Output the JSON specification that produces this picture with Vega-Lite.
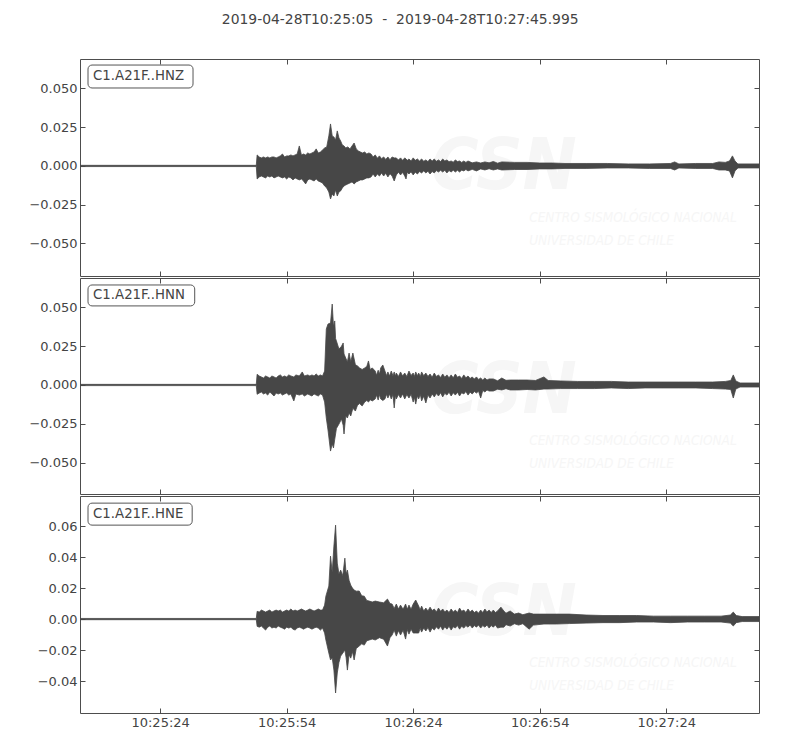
{
  "$schema": "https://vega.github.io/schema/vega-lite/v6.json",
  "background": "white",
  "padding": {"left": 28, "top": 13, "right": 20, "bottom": 5},
  "title": {
    "text": "2019-04-28T10:25:05 \u00a0-\u00a0 2019-04-28T10:27:45.995",
    "font": "DejaVu Sans",
    "fontSize": 13.9,
    "fontWeight": "normal",
    "color": "#444444",
    "anchor": "middle",
    "offset": 31,
    "dx": 6
  },
  "datasets": {
    "hnz": [
      {"t": 0, "lo": -0.0004, "hi": 0.0004},
      {"t": 41.8, "lo": -0.0004, "hi": 0.0004},
      {"t": 42.0, "lo": -0.0084, "hi": 0.0071},
      {"t": 42.5, "lo": -0.0071, "hi": 0.0058},
      {"t": 43.0, "lo": -0.0065, "hi": 0.0052},
      {"t": 43.5, "lo": -0.0071, "hi": 0.0058},
      {"t": 44.0, "lo": -0.0077, "hi": 0.0052},
      {"t": 44.5, "lo": -0.0065, "hi": 0.0058},
      {"t": 45.0, "lo": -0.0071, "hi": 0.0052},
      {"t": 45.5, "lo": -0.0065, "hi": 0.0058},
      {"t": 46.0, "lo": -0.0077, "hi": 0.0058},
      {"t": 46.5, "lo": -0.0071, "hi": 0.0052},
      {"t": 47.0, "lo": -0.0065, "hi": 0.0058},
      {"t": 47.5, "lo": -0.0071, "hi": 0.0065},
      {"t": 48.0, "lo": -0.0077, "hi": 0.0077},
      {"t": 48.5, "lo": -0.0071, "hi": 0.0058},
      {"t": 49.0, "lo": -0.0084, "hi": 0.0065},
      {"t": 49.5, "lo": -0.0071, "hi": 0.0065},
      {"t": 50.0, "lo": -0.0077, "hi": 0.0071},
      {"t": 50.5, "lo": -0.0090, "hi": 0.0065},
      {"t": 51.0, "lo": -0.0077, "hi": 0.0071},
      {"t": 51.5, "lo": -0.0084, "hi": 0.0077},
      {"t": 52.0, "lo": -0.0090, "hi": 0.0129},
      {"t": 52.5, "lo": -0.0084, "hi": 0.0071},
      {"t": 53.0, "lo": -0.0097, "hi": 0.0077},
      {"t": 53.5, "lo": -0.0116, "hi": 0.0071},
      {"t": 54.0, "lo": -0.0090, "hi": 0.0084},
      {"t": 54.5, "lo": -0.0084, "hi": 0.0077},
      {"t": 55.0, "lo": -0.0090, "hi": 0.0084},
      {"t": 55.5, "lo": -0.0097, "hi": 0.0090},
      {"t": 56.0, "lo": -0.0084, "hi": 0.0110},
      {"t": 56.5, "lo": -0.0097, "hi": 0.0084},
      {"t": 57.0, "lo": -0.0103, "hi": 0.0090},
      {"t": 57.5, "lo": -0.0110, "hi": 0.0103},
      {"t": 58.0, "lo": -0.0129, "hi": 0.0116},
      {"t": 58.5, "lo": -0.0142, "hi": 0.0123},
      {"t": 59.0, "lo": -0.0168, "hi": 0.0194},
      {"t": 59.4, "lo": -0.0213, "hi": 0.0271},
      {"t": 59.8, "lo": -0.0181, "hi": 0.0194},
      {"t": 60.2, "lo": -0.0194, "hi": 0.0187},
      {"t": 60.6, "lo": -0.0155, "hi": 0.0168},
      {"t": 61.0, "lo": -0.0194, "hi": 0.0226},
      {"t": 61.4, "lo": -0.0168, "hi": 0.0181},
      {"t": 61.8, "lo": -0.0161, "hi": 0.0161},
      {"t": 62.2, "lo": -0.0142, "hi": 0.0135},
      {"t": 62.6, "lo": -0.0129, "hi": 0.0129},
      {"t": 63.0, "lo": -0.0123, "hi": 0.0116},
      {"t": 63.5, "lo": -0.0116, "hi": 0.0123},
      {"t": 64.0, "lo": -0.0110, "hi": 0.0110},
      {"t": 64.5, "lo": -0.0103, "hi": 0.0129},
      {"t": 65.0, "lo": -0.0116, "hi": 0.0148},
      {"t": 65.5, "lo": -0.0103, "hi": 0.0110},
      {"t": 66.0, "lo": -0.0097, "hi": 0.0097},
      {"t": 66.5, "lo": -0.0090, "hi": 0.0090},
      {"t": 67.0, "lo": -0.0090, "hi": 0.0084},
      {"t": 67.5, "lo": -0.0084, "hi": 0.0090},
      {"t": 68.0, "lo": -0.0077, "hi": 0.0077},
      {"t": 68.5, "lo": -0.0077, "hi": 0.0084},
      {"t": 69.0, "lo": -0.0071, "hi": 0.0077},
      {"t": 69.5, "lo": -0.0052, "hi": 0.0058},
      {"t": 70.0, "lo": -0.0071, "hi": 0.0071},
      {"t": 70.5, "lo": -0.0052, "hi": 0.0050},
      {"t": 71.0, "lo": -0.0065, "hi": 0.0065},
      {"t": 71.5, "lo": -0.0045, "hi": 0.0047},
      {"t": 72.0, "lo": -0.0065, "hi": 0.0058},
      {"t": 72.5, "lo": -0.0047, "hi": 0.0042},
      {"t": 73.0, "lo": -0.0071, "hi": 0.0058},
      {"t": 73.5, "lo": -0.0050, "hi": 0.0040},
      {"t": 74.0, "lo": -0.0065, "hi": 0.0058},
      {"t": 74.5, "lo": -0.0097, "hi": 0.0052},
      {"t": 75.0, "lo": -0.0058, "hi": 0.0052},
      {"t": 75.5, "lo": -0.0040, "hi": 0.0038},
      {"t": 76.0, "lo": -0.0058, "hi": 0.0052},
      {"t": 76.5, "lo": -0.0042, "hi": 0.0036},
      {"t": 77.0, "lo": -0.0065, "hi": 0.0052},
      {"t": 77.3, "lo": -0.0084, "hi": 0.0045},
      {"t": 77.6, "lo": -0.0040, "hi": 0.0036},
      {"t": 78.0, "lo": -0.0052, "hi": 0.0045},
      {"t": 78.5, "lo": -0.0038, "hi": 0.0032},
      {"t": 79.0, "lo": -0.0058, "hi": 0.0052},
      {"t": 79.5, "lo": -0.0040, "hi": 0.0036},
      {"t": 80.0, "lo": -0.0052, "hi": 0.0045},
      {"t": 80.5, "lo": -0.0036, "hi": 0.0032},
      {"t": 81.0, "lo": -0.0045, "hi": 0.0045},
      {"t": 81.5, "lo": -0.0032, "hi": 0.0030},
      {"t": 82.0, "lo": -0.0045, "hi": 0.0039},
      {"t": 82.5, "lo": -0.0034, "hi": 0.0028},
      {"t": 83.0, "lo": -0.0052, "hi": 0.0045},
      {"t": 83.5, "lo": -0.0036, "hi": 0.0032},
      {"t": 84.0, "lo": -0.0045, "hi": 0.0045},
      {"t": 84.5, "lo": -0.0030, "hi": 0.0030},
      {"t": 85.0, "lo": -0.0039, "hi": 0.0039},
      {"t": 85.5, "lo": -0.0028, "hi": 0.0028},
      {"t": 86.0, "lo": -0.0039, "hi": 0.0045},
      {"t": 86.5, "lo": -0.0028, "hi": 0.0032},
      {"t": 87.0, "lo": -0.0045, "hi": 0.0039},
      {"t": 87.5, "lo": -0.0030, "hi": 0.0027},
      {"t": 88.0, "lo": -0.0039, "hi": 0.0032},
      {"t": 88.5, "lo": -0.0027, "hi": 0.0024},
      {"t": 89.0, "lo": -0.0039, "hi": 0.0039},
      {"t": 89.5, "lo": -0.0028, "hi": 0.0028},
      {"t": 90.0, "lo": -0.0039, "hi": 0.0032},
      {"t": 90.5, "lo": -0.0027, "hi": 0.0023},
      {"t": 91.0, "lo": -0.0032, "hi": 0.0032},
      {"t": 91.5, "lo": -0.0023, "hi": 0.0023},
      {"t": 92.0, "lo": -0.0032, "hi": 0.0032},
      {"t": 93.0, "lo": -0.0022, "hi": 0.0020},
      {"t": 94.0, "lo": -0.0032, "hi": 0.0026},
      {"t": 95.0, "lo": -0.0019, "hi": 0.0019},
      {"t": 96.0, "lo": -0.0026, "hi": 0.0026},
      {"t": 97.0, "lo": -0.0018, "hi": 0.0020},
      {"t": 98.0, "lo": -0.0026, "hi": 0.0029},
      {"t": 99.0, "lo": -0.0019, "hi": 0.0018},
      {"t": 100.0, "lo": -0.0026, "hi": 0.0026},
      {"t": 103.0, "lo": -0.0023, "hi": 0.0023},
      {"t": 106.0, "lo": -0.0023, "hi": 0.0023},
      {"t": 109.0, "lo": -0.0019, "hi": 0.0019},
      {"t": 112.0, "lo": -0.0019, "hi": 0.0019},
      {"t": 115.0, "lo": -0.0016, "hi": 0.0016},
      {"t": 120.0, "lo": -0.0016, "hi": 0.0016},
      {"t": 125.0, "lo": -0.0013, "hi": 0.0016},
      {"t": 130.0, "lo": -0.0013, "hi": 0.0013},
      {"t": 135.0, "lo": -0.0016, "hi": 0.0013},
      {"t": 140.0, "lo": -0.0016, "hi": 0.0016},
      {"t": 141.0, "lo": -0.0026, "hi": 0.0026},
      {"t": 142.0, "lo": -0.0013, "hi": 0.0013},
      {"t": 146.0, "lo": -0.0016, "hi": 0.0016},
      {"t": 150.0, "lo": -0.0016, "hi": 0.0016},
      {"t": 151.5, "lo": -0.0026, "hi": 0.0026},
      {"t": 153.0, "lo": -0.0026, "hi": 0.0023},
      {"t": 154.0, "lo": -0.0032, "hi": 0.0032},
      {"t": 154.7, "lo": -0.0077, "hi": 0.0065},
      {"t": 155.3, "lo": -0.0032, "hi": 0.0032},
      {"t": 156.0, "lo": -0.0013, "hi": 0.0013},
      {"t": 161.0, "lo": -0.0013, "hi": 0.0013}
    ],
    "hnn": [
      {"t": 0, "lo": -0.0004, "hi": 0.0004},
      {"t": 41.8, "lo": -0.0004, "hi": 0.0004},
      {"t": 42.0, "lo": -0.0060, "hi": 0.0069},
      {"t": 42.5, "lo": -0.0052, "hi": 0.0058},
      {"t": 43.0, "lo": -0.0045, "hi": 0.0052},
      {"t": 43.5, "lo": -0.0058, "hi": 0.0045},
      {"t": 44.0, "lo": -0.0052, "hi": 0.0058},
      {"t": 44.5, "lo": -0.0065, "hi": 0.0052},
      {"t": 45.0, "lo": -0.0045, "hi": 0.0045},
      {"t": 45.5, "lo": -0.0058, "hi": 0.0058},
      {"t": 46.0, "lo": -0.0071, "hi": 0.0052},
      {"t": 46.5, "lo": -0.0052, "hi": 0.0045},
      {"t": 47.0, "lo": -0.0058, "hi": 0.0058},
      {"t": 47.5, "lo": -0.0052, "hi": 0.0065},
      {"t": 48.0, "lo": -0.0065, "hi": 0.0052},
      {"t": 48.5, "lo": -0.0058, "hi": 0.0058},
      {"t": 49.0, "lo": -0.0052, "hi": 0.0052},
      {"t": 49.5, "lo": -0.0065, "hi": 0.0065},
      {"t": 50.0, "lo": -0.0058, "hi": 0.0058},
      {"t": 50.7, "lo": -0.0103, "hi": 0.0052},
      {"t": 51.2, "lo": -0.0058, "hi": 0.0065},
      {"t": 52.0, "lo": -0.0065, "hi": 0.0058},
      {"t": 52.7, "lo": -0.0058, "hi": 0.0084},
      {"t": 53.2, "lo": -0.0071, "hi": 0.0058},
      {"t": 54.0, "lo": -0.0058, "hi": 0.0065},
      {"t": 54.5, "lo": -0.0065, "hi": 0.0058},
      {"t": 55.0, "lo": -0.0071, "hi": 0.0065},
      {"t": 55.5, "lo": -0.0058, "hi": 0.0058},
      {"t": 56.0, "lo": -0.0065, "hi": 0.0071},
      {"t": 56.5, "lo": -0.0071, "hi": 0.0058},
      {"t": 57.0, "lo": -0.0058, "hi": 0.0065},
      {"t": 57.5, "lo": -0.0065, "hi": 0.0058},
      {"t": 58.0, "lo": -0.0110, "hi": 0.0090},
      {"t": 58.4, "lo": -0.0213, "hi": 0.0361},
      {"t": 58.8, "lo": -0.0290, "hi": 0.0393},
      {"t": 59.4, "lo": -0.0426, "hi": 0.0400},
      {"t": 59.8, "lo": -0.0380, "hi": 0.0522},
      {"t": 60.1, "lo": -0.0406, "hi": 0.0380},
      {"t": 60.4, "lo": -0.0350, "hi": 0.0413},
      {"t": 60.6, "lo": -0.0316, "hi": 0.0300},
      {"t": 60.8, "lo": -0.0280, "hi": 0.0284},
      {"t": 61.4, "lo": -0.0252, "hi": 0.0232},
      {"t": 62.0, "lo": -0.0220, "hi": 0.0250},
      {"t": 62.4, "lo": -0.0260, "hi": 0.0271},
      {"t": 62.6, "lo": -0.0316, "hi": 0.0200},
      {"t": 63.0, "lo": -0.0200, "hi": 0.0174},
      {"t": 63.4, "lo": -0.0213, "hi": 0.0150},
      {"t": 63.8, "lo": -0.0180, "hi": 0.0206},
      {"t": 64.2, "lo": -0.0200, "hi": 0.0150},
      {"t": 64.7, "lo": -0.0150, "hi": 0.0206},
      {"t": 65.3, "lo": -0.0168, "hi": 0.0130},
      {"t": 65.8, "lo": -0.0130, "hi": 0.0123},
      {"t": 66.3, "lo": -0.0120, "hi": 0.0110},
      {"t": 66.9, "lo": -0.0135, "hi": 0.0100},
      {"t": 67.5, "lo": -0.0110, "hi": 0.0110},
      {"t": 68.0, "lo": -0.0100, "hi": 0.0120},
      {"t": 68.4, "lo": -0.0110, "hi": 0.0155},
      {"t": 68.8, "lo": -0.0095, "hi": 0.0100},
      {"t": 69.3, "lo": -0.0103, "hi": 0.0110},
      {"t": 70.0, "lo": -0.0090, "hi": 0.0090},
      {"t": 70.3, "lo": -0.0065, "hi": 0.0063},
      {"t": 70.7, "lo": -0.0097, "hi": 0.0095},
      {"t": 71.0, "lo": -0.0062, "hi": 0.0070},
      {"t": 71.3, "lo": -0.0090, "hi": 0.0110},
      {"t": 71.8, "lo": -0.0100, "hi": 0.0129},
      {"t": 72.3, "lo": -0.0090, "hi": 0.0090},
      {"t": 72.7, "lo": -0.0060, "hi": 0.0060},
      {"t": 73.0, "lo": -0.0084, "hi": 0.0084},
      {"t": 73.4, "lo": -0.0058, "hi": 0.0058},
      {"t": 73.8, "lo": -0.0090, "hi": 0.0090},
      {"t": 74.2, "lo": -0.0062, "hi": 0.0060},
      {"t": 74.5, "lo": -0.0148, "hi": 0.0084},
      {"t": 74.8, "lo": -0.0065, "hi": 0.0058},
      {"t": 75.0, "lo": -0.0090, "hi": 0.0077},
      {"t": 75.5, "lo": -0.0062, "hi": 0.0055},
      {"t": 76.0, "lo": -0.0084, "hi": 0.0084},
      {"t": 76.5, "lo": -0.0058, "hi": 0.0058},
      {"t": 77.0, "lo": -0.0090, "hi": 0.0077},
      {"t": 77.5, "lo": -0.0062, "hi": 0.0055},
      {"t": 78.0, "lo": -0.0084, "hi": 0.0090},
      {"t": 78.5, "lo": -0.0060, "hi": 0.0062},
      {"t": 79.0, "lo": -0.0110, "hi": 0.0077},
      {"t": 79.3, "lo": -0.0080, "hi": 0.0055},
      {"t": 79.6, "lo": -0.0123, "hi": 0.0084},
      {"t": 80.0, "lo": -0.0070, "hi": 0.0060},
      {"t": 80.3, "lo": -0.0090, "hi": 0.0077},
      {"t": 80.7, "lo": -0.0062, "hi": 0.0055},
      {"t": 81.0, "lo": -0.0103, "hi": 0.0084},
      {"t": 81.5, "lo": -0.0072, "hi": 0.0060},
      {"t": 82.0, "lo": -0.0116, "hi": 0.0077},
      {"t": 82.5, "lo": -0.0065, "hi": 0.0055},
      {"t": 83.0, "lo": -0.0084, "hi": 0.0071},
      {"t": 83.5, "lo": -0.0058, "hi": 0.0050},
      {"t": 84.0, "lo": -0.0077, "hi": 0.0077},
      {"t": 84.5, "lo": -0.0055, "hi": 0.0055},
      {"t": 85.0, "lo": -0.0071, "hi": 0.0065},
      {"t": 85.5, "lo": -0.0050, "hi": 0.0048},
      {"t": 86.0, "lo": -0.0077, "hi": 0.0071},
      {"t": 86.5, "lo": -0.0054, "hi": 0.0050},
      {"t": 87.0, "lo": -0.0065, "hi": 0.0065},
      {"t": 87.5, "lo": -0.0046, "hi": 0.0046},
      {"t": 88.0, "lo": -0.0071, "hi": 0.0065},
      {"t": 88.5, "lo": -0.0050, "hi": 0.0046},
      {"t": 89.0, "lo": -0.0065, "hi": 0.0071},
      {"t": 89.5, "lo": -0.0046, "hi": 0.0050},
      {"t": 90.0, "lo": -0.0071, "hi": 0.0058},
      {"t": 90.5, "lo": -0.0050, "hi": 0.0042},
      {"t": 91.0, "lo": -0.0058, "hi": 0.0065},
      {"t": 91.5, "lo": -0.0042, "hi": 0.0046},
      {"t": 92.0, "lo": -0.0065, "hi": 0.0058},
      {"t": 92.5, "lo": -0.0046, "hi": 0.0042},
      {"t": 93.0, "lo": -0.0058, "hi": 0.0052},
      {"t": 93.5, "lo": -0.0042, "hi": 0.0038},
      {"t": 94.0, "lo": -0.0052, "hi": 0.0052},
      {"t": 94.5, "lo": -0.0040, "hi": 0.0036},
      {"t": 95.0, "lo": -0.0084, "hi": 0.0045},
      {"t": 95.5, "lo": -0.0035, "hi": 0.0032},
      {"t": 96.0, "lo": -0.0045, "hi": 0.0045},
      {"t": 96.5, "lo": -0.0032, "hi": 0.0032},
      {"t": 97.0, "lo": -0.0039, "hi": 0.0039},
      {"t": 98.0, "lo": -0.0039, "hi": 0.0039},
      {"t": 99.0, "lo": -0.0027, "hi": 0.0027},
      {"t": 100.0, "lo": -0.0032, "hi": 0.0045},
      {"t": 101.0, "lo": -0.0024, "hi": 0.0030},
      {"t": 102.0, "lo": -0.0032, "hi": 0.0032},
      {"t": 104.0, "lo": -0.0032, "hi": 0.0032},
      {"t": 106.0, "lo": -0.0029, "hi": 0.0032},
      {"t": 108.0, "lo": -0.0032, "hi": 0.0029},
      {"t": 110.0, "lo": -0.0026, "hi": 0.0052},
      {"t": 111.0, "lo": -0.0026, "hi": 0.0029},
      {"t": 114.0, "lo": -0.0023, "hi": 0.0026},
      {"t": 118.0, "lo": -0.0023, "hi": 0.0023},
      {"t": 122.0, "lo": -0.0023, "hi": 0.0023},
      {"t": 126.0, "lo": -0.0019, "hi": 0.0023},
      {"t": 130.0, "lo": -0.0023, "hi": 0.0019},
      {"t": 134.0, "lo": -0.0019, "hi": 0.0019},
      {"t": 138.0, "lo": -0.0019, "hi": 0.0019},
      {"t": 142.0, "lo": -0.0019, "hi": 0.0019},
      {"t": 146.0, "lo": -0.0019, "hi": 0.0019},
      {"t": 150.0, "lo": -0.0023, "hi": 0.0019},
      {"t": 153.0, "lo": -0.0026, "hi": 0.0023},
      {"t": 154.3, "lo": -0.0029, "hi": 0.0029},
      {"t": 154.9, "lo": -0.0084, "hi": 0.0065},
      {"t": 155.5, "lo": -0.0026, "hi": 0.0026},
      {"t": 156.5, "lo": -0.0013, "hi": 0.0013},
      {"t": 161.0, "lo": -0.0013, "hi": 0.0013}
    ],
    "hne": [
      {"t": 0, "lo": -0.0004, "hi": 0.0004},
      {"t": 41.8, "lo": -0.0004, "hi": 0.0004},
      {"t": 42.0, "lo": -0.0047, "hi": 0.0050},
      {"t": 42.5, "lo": -0.0052, "hi": 0.0045},
      {"t": 43.0, "lo": -0.0045, "hi": 0.0058},
      {"t": 43.5, "lo": -0.0058, "hi": 0.0052},
      {"t": 44.0, "lo": -0.0071, "hi": 0.0045},
      {"t": 44.5, "lo": -0.0052, "hi": 0.0052},
      {"t": 45.0, "lo": -0.0045, "hi": 0.0058},
      {"t": 45.5, "lo": -0.0058, "hi": 0.0045},
      {"t": 46.0, "lo": -0.0052, "hi": 0.0052},
      {"t": 46.5, "lo": -0.0058, "hi": 0.0058},
      {"t": 47.0, "lo": -0.0045, "hi": 0.0052},
      {"t": 47.5, "lo": -0.0052, "hi": 0.0058},
      {"t": 48.0, "lo": -0.0058, "hi": 0.0045},
      {"t": 48.5, "lo": -0.0065, "hi": 0.0052},
      {"t": 49.0, "lo": -0.0052, "hi": 0.0058},
      {"t": 49.5, "lo": -0.0058, "hi": 0.0052},
      {"t": 50.0, "lo": -0.0052, "hi": 0.0065},
      {"t": 50.5, "lo": -0.0065, "hi": 0.0052},
      {"t": 51.0, "lo": -0.0071, "hi": 0.0058},
      {"t": 51.5, "lo": -0.0058, "hi": 0.0052},
      {"t": 52.0, "lo": -0.0052, "hi": 0.0058},
      {"t": 52.5, "lo": -0.0058, "hi": 0.0065},
      {"t": 53.0, "lo": -0.0065, "hi": 0.0058},
      {"t": 53.5, "lo": -0.0058, "hi": 0.0052},
      {"t": 54.0, "lo": -0.0052, "hi": 0.0058},
      {"t": 54.5, "lo": -0.0058, "hi": 0.0065},
      {"t": 55.0, "lo": -0.0065, "hi": 0.0058},
      {"t": 55.5, "lo": -0.0058, "hi": 0.0052},
      {"t": 56.0, "lo": -0.0052, "hi": 0.0058},
      {"t": 56.5, "lo": -0.0058, "hi": 0.0065},
      {"t": 57.0, "lo": -0.0071, "hi": 0.0058},
      {"t": 57.5, "lo": -0.0058, "hi": 0.0058},
      {"t": 58.0, "lo": -0.0090, "hi": 0.0090},
      {"t": 58.3, "lo": -0.0135, "hi": 0.0148},
      {"t": 59.0, "lo": -0.0219, "hi": 0.0213},
      {"t": 59.4, "lo": -0.0264, "hi": 0.0406},
      {"t": 59.8, "lo": -0.0250, "hi": 0.0300},
      {"t": 60.2, "lo": -0.0329, "hi": 0.0471},
      {"t": 60.6, "lo": -0.0477, "hi": 0.0606},
      {"t": 61.0, "lo": -0.0348, "hi": 0.0361},
      {"t": 61.4, "lo": -0.0280, "hi": 0.0290},
      {"t": 61.8, "lo": -0.0239, "hi": 0.0316},
      {"t": 62.3, "lo": -0.0220, "hi": 0.0280},
      {"t": 62.8, "lo": -0.0200, "hi": 0.0393},
      {"t": 63.1, "lo": -0.0250, "hi": 0.0290},
      {"t": 63.4, "lo": -0.0329, "hi": 0.0316},
      {"t": 63.8, "lo": -0.0230, "hi": 0.0250},
      {"t": 64.2, "lo": -0.0252, "hi": 0.0219},
      {"t": 64.6, "lo": -0.0210, "hi": 0.0200},
      {"t": 65.0, "lo": -0.0264, "hi": 0.0187},
      {"t": 65.5, "lo": -0.0190, "hi": 0.0180},
      {"t": 66.2, "lo": -0.0174, "hi": 0.0181},
      {"t": 66.8, "lo": -0.0160, "hi": 0.0150},
      {"t": 67.4, "lo": -0.0168, "hi": 0.0148},
      {"t": 68.0, "lo": -0.0140, "hi": 0.0120},
      {"t": 68.6, "lo": -0.0135, "hi": 0.0116},
      {"t": 69.3, "lo": -0.0129, "hi": 0.0110},
      {"t": 70.0, "lo": -0.0135, "hi": 0.0116},
      {"t": 71.0, "lo": -0.0120, "hi": 0.0110},
      {"t": 72.0, "lo": -0.0130, "hi": 0.0105},
      {"t": 72.9, "lo": -0.0174, "hi": 0.0129},
      {"t": 73.5, "lo": -0.0120, "hi": 0.0100},
      {"t": 74.0, "lo": -0.0103, "hi": 0.0097},
      {"t": 74.5, "lo": -0.0072, "hi": 0.0068},
      {"t": 75.0, "lo": -0.0110, "hi": 0.0097},
      {"t": 75.5, "lo": -0.0075, "hi": 0.0065},
      {"t": 76.0, "lo": -0.0103, "hi": 0.0090},
      {"t": 76.6, "lo": -0.0072, "hi": 0.0063},
      {"t": 77.2, "lo": -0.0129, "hi": 0.0097},
      {"t": 77.6, "lo": -0.0068, "hi": 0.0063},
      {"t": 78.0, "lo": -0.0097, "hi": 0.0090},
      {"t": 78.5, "lo": -0.0065, "hi": 0.0063},
      {"t": 79.0, "lo": -0.0090, "hi": 0.0097},
      {"t": 79.6, "lo": -0.0090, "hi": 0.0123},
      {"t": 80.3, "lo": -0.0090, "hi": 0.0084},
      {"t": 80.65, "lo": -0.0060, "hi": 0.0060},
      {"t": 81.0, "lo": -0.0084, "hi": 0.0084},
      {"t": 81.5, "lo": -0.0058, "hi": 0.0052},
      {"t": 82.0, "lo": -0.0077, "hi": 0.0071},
      {"t": 82.5, "lo": -0.0055, "hi": 0.0052},
      {"t": 83.0, "lo": -0.0084, "hi": 0.0077},
      {"t": 83.5, "lo": -0.0058, "hi": 0.0055},
      {"t": 84.0, "lo": -0.0071, "hi": 0.0065},
      {"t": 84.5, "lo": -0.0050, "hi": 0.0046},
      {"t": 85.0, "lo": -0.0065, "hi": 0.0071},
      {"t": 85.5, "lo": -0.0046, "hi": 0.0050},
      {"t": 86.0, "lo": -0.0071, "hi": 0.0065},
      {"t": 86.5, "lo": -0.0050, "hi": 0.0046},
      {"t": 87.0, "lo": -0.0065, "hi": 0.0058},
      {"t": 87.5, "lo": -0.0046, "hi": 0.0042},
      {"t": 88.0, "lo": -0.0071, "hi": 0.0065},
      {"t": 88.5, "lo": -0.0050, "hi": 0.0046},
      {"t": 89.0, "lo": -0.0058, "hi": 0.0058},
      {"t": 89.5, "lo": -0.0042, "hi": 0.0042},
      {"t": 90.0, "lo": -0.0065, "hi": 0.0071},
      {"t": 90.5, "lo": -0.0046, "hi": 0.0050},
      {"t": 91.0, "lo": -0.0058, "hi": 0.0058},
      {"t": 91.5, "lo": -0.0042, "hi": 0.0042},
      {"t": 92.0, "lo": -0.0052, "hi": 0.0065},
      {"t": 92.5, "lo": -0.0038, "hi": 0.0046},
      {"t": 93.0, "lo": -0.0058, "hi": 0.0058},
      {"t": 93.5, "lo": -0.0042, "hi": 0.0042},
      {"t": 94.0, "lo": -0.0052, "hi": 0.0052},
      {"t": 94.5, "lo": -0.0038, "hi": 0.0038},
      {"t": 95.0, "lo": -0.0058, "hi": 0.0058},
      {"t": 95.5, "lo": -0.0042, "hi": 0.0042},
      {"t": 96.0, "lo": -0.0052, "hi": 0.0065},
      {"t": 96.5, "lo": -0.0038, "hi": 0.0046},
      {"t": 97.0, "lo": -0.0058, "hi": 0.0058},
      {"t": 97.5, "lo": -0.0042, "hi": 0.0042},
      {"t": 98.0, "lo": -0.0052, "hi": 0.0058},
      {"t": 98.5, "lo": -0.0038, "hi": 0.0042},
      {"t": 99.0, "lo": -0.0058, "hi": 0.0052},
      {"t": 99.8, "lo": -0.0052, "hi": 0.0077},
      {"t": 100.5, "lo": -0.0052, "hi": 0.0052},
      {"t": 101.0, "lo": -0.0036, "hi": 0.0038},
      {"t": 102.0, "lo": -0.0045, "hi": 0.0052},
      {"t": 103.0, "lo": -0.0030, "hi": 0.0032},
      {"t": 104.0, "lo": -0.0039, "hi": 0.0039},
      {"t": 105.0, "lo": -0.0030, "hi": 0.0028},
      {"t": 106.5, "lo": -0.0065, "hi": 0.0039},
      {"t": 107.5, "lo": -0.0039, "hi": 0.0032},
      {"t": 110.0, "lo": -0.0032, "hi": 0.0032},
      {"t": 113.0, "lo": -0.0032, "hi": 0.0032},
      {"t": 116.0, "lo": -0.0029, "hi": 0.0032},
      {"t": 120.0, "lo": -0.0026, "hi": 0.0026},
      {"t": 124.0, "lo": -0.0023, "hi": 0.0023},
      {"t": 128.0, "lo": -0.0023, "hi": 0.0023},
      {"t": 132.0, "lo": -0.0019, "hi": 0.0023},
      {"t": 136.0, "lo": -0.0019, "hi": 0.0019},
      {"t": 140.0, "lo": -0.0023, "hi": 0.0019},
      {"t": 144.0, "lo": -0.0019, "hi": 0.0019},
      {"t": 148.0, "lo": -0.0019, "hi": 0.0019},
      {"t": 152.0, "lo": -0.0019, "hi": 0.0019},
      {"t": 154.2, "lo": -0.0026, "hi": 0.0026},
      {"t": 154.9, "lo": -0.0045, "hi": 0.0045},
      {"t": 155.6, "lo": -0.0023, "hi": 0.0023},
      {"t": 157.0, "lo": -0.0016, "hi": 0.0016},
      {"t": 161.0, "lo": -0.0016, "hi": 0.0016}
    ],
    "labels": [
      {"c": "HNZ", "label": "C1.A21F..HNZ"},
      {"c": "HNN", "label": "C1.A21F..HNN"},
      {"c": "HNE", "label": "C1.A21F..HNE"}
    ],
    "logo": [
      {"k": "big", "s": "CSN"},
      {"k": "cap", "s": "CENTRO SISMOLÓGICO NACIONAL\nUNIVERSIDAD DE CHILE"}
    ]
  },
  "vconcat": [
    {
      "width": 679,
      "height": 217,
      "layer": [
        {
          "data": {"name": "logo"},
          "transform": [{"filter": "datum.k === 'big'"}],
          "mark": {"type": "text", "font": "DejaVu Sans Condensed, DejaVu Sans", "fontSize": 72, "fontWeight": "bold", "fontStyle": "italic", "color": "#f6f6f6", "align": "center", "baseline": "middle"},
          "encoding": {
            "x": {"datum": 100.5, "type": "quantitative", "scale": {"domain": [0, 160.995], "nice": false, "zero": false}, "axis": null},
            "y": {"datum": -0.0006, "type": "quantitative", "scale": {"domain": [-0.071, 0.069], "nice": false, "zero": false}, "axis": null},
            "text": {"field": "s"}
          }
        },
        {
          "data": {"name": "logo"},
          "transform": [{"filter": "datum.k === 'cap'"}],
          "mark": {"type": "text", "font": "DejaVu Sans Condensed, DejaVu Sans", "fontSize": 13.5, "fontStyle": "italic", "color": "#f6f6f6", "align": "left", "baseline": "middle", "lineBreak": "\n", "lineHeight": 23},
          "encoding": {
            "x": {"datum": 106.5, "type": "quantitative", "scale": {"domain": [0, 160.995], "nice": false, "zero": false}, "axis": null},
            "y": {"datum": -0.0335, "type": "quantitative", "scale": {"domain": [-0.071, 0.069], "nice": false, "zero": false}, "axis": null},
            "text": {"field": "s"}
          }
        },
        {
          "data": {"name": "hnz"},
          "mark": {"type": "area", "color": "#474747", "stroke": "#474747", "strokeWidth": 0.8, "clip": true},
          "encoding": {
            "x": {"field": "t", "type": "quantitative", "scale": {"domain": [0, 160.995], "nice": false, "zero": false}, "axis": {"orient": "bottom", "values": [19, 49, 79, 109, 139], "labels": false, "title": null}},
            "y": {"field": "lo", "type": "quantitative", "scale": {"domain": [-0.071, 0.069], "nice": false, "zero": false}, "axis": {"orient": "left", "values": [-0.05, -0.025, 0, 0.025, 0.05], "format": ".3f", "title": null}},
            "y2": {"field": "hi"}
          }
        },
        {
          "data": {"name": "labels"},
          "transform": [{"filter": "datum.c === 'HNZ'"}],
          "mark": {"type": "rect", "fill": "white", "stroke": "#555555", "strokeWidth": 1, "cornerRadius": 4},
          "encoding": {
            "x": {"datum": 1.9, "type": "quantitative", "scale": {"domain": [0, 160.995], "nice": false, "zero": false}, "axis": {"orient": "top", "values": [19, 49, 79, 109, 139], "labels": false, "title": null}},
            "x2": {"datum": 26.8},
            "y": {"datum": 0.0503, "type": "quantitative", "scale": {"domain": [-0.071, 0.069], "nice": false, "zero": false}, "axis": {"orient": "right", "values": [-0.05, -0.025, 0, 0.025, 0.05], "labels": false, "title": null}},
            "y2": {"datum": 0.0651}
          }
        },
        {
          "data": {"name": "labels"},
          "transform": [{"filter": "datum.c === 'HNZ'"}],
          "mark": {"type": "text", "font": "DejaVu Sans", "fontSize": 13.3, "color": "#444444", "align": "left", "baseline": "middle"},
          "encoding": {
            "x": {"datum": 3.1, "type": "quantitative", "scale": {"domain": [0, 160.995], "nice": false, "zero": false}, "axis": null},
            "y": {"datum": 0.0579, "type": "quantitative", "scale": {"domain": [-0.071, 0.069], "nice": false, "zero": false}, "axis": null},
            "text": {"field": "label"}
          }
        }
      ],
      "resolve": {"axis": {"x": "independent", "y": "independent"}}
    },
    {
      "width": 679,
      "height": 216,
      "layer": [
        {
          "data": {"name": "logo"},
          "transform": [{"filter": "datum.k === 'big'"}],
          "mark": {"type": "text", "font": "DejaVu Sans Condensed, DejaVu Sans", "fontSize": 72, "fontWeight": "bold", "fontStyle": "italic", "color": "#f6f6f6", "align": "center", "baseline": "middle"},
          "encoding": {
            "x": {"datum": 100.5, "type": "quantitative", "scale": {"domain": [0, 160.995], "nice": false, "zero": false}, "axis": null},
            "y": {"datum": -0.0039, "type": "quantitative", "scale": {"domain": [-0.0703, 0.069], "nice": false, "zero": false}, "axis": null},
            "text": {"field": "s"}
          }
        },
        {
          "data": {"name": "logo"},
          "transform": [{"filter": "datum.k === 'cap'"}],
          "mark": {"type": "text", "font": "DejaVu Sans Condensed, DejaVu Sans", "fontSize": 13.5, "fontStyle": "italic", "color": "#f6f6f6", "align": "left", "baseline": "middle", "lineBreak": "\n", "lineHeight": 23},
          "encoding": {
            "x": {"datum": 106.5, "type": "quantitative", "scale": {"domain": [0, 160.995], "nice": false, "zero": false}, "axis": null},
            "y": {"datum": -0.0361, "type": "quantitative", "scale": {"domain": [-0.0703, 0.069], "nice": false, "zero": false}, "axis": null},
            "text": {"field": "s"}
          }
        },
        {
          "data": {"name": "hnn"},
          "mark": {"type": "area", "color": "#474747", "stroke": "#474747", "strokeWidth": 0.8, "clip": true},
          "encoding": {
            "x": {"field": "t", "type": "quantitative", "scale": {"domain": [0, 160.995], "nice": false, "zero": false}, "axis": {"orient": "bottom", "values": [19, 49, 79, 109, 139], "labels": false, "title": null}},
            "y": {"field": "lo", "type": "quantitative", "scale": {"domain": [-0.0703, 0.069], "nice": false, "zero": false}, "axis": {"orient": "left", "values": [-0.05, -0.025, 0, 0.025, 0.05], "format": ".3f", "title": null}},
            "y2": {"field": "hi"}
          }
        },
        {
          "data": {"name": "labels"},
          "transform": [{"filter": "datum.c === 'HNN'"}],
          "mark": {"type": "rect", "fill": "white", "stroke": "#555555", "strokeWidth": 1, "cornerRadius": 4},
          "encoding": {
            "x": {"datum": 1.9, "type": "quantitative", "scale": {"domain": [0, 160.995], "nice": false, "zero": false}, "axis": {"orient": "top", "values": [19, 49, 79, 109, 139], "labels": false, "title": null}},
            "x2": {"datum": 27.2},
            "y": {"datum": 0.051, "type": "quantitative", "scale": {"domain": [-0.0703, 0.069], "nice": false, "zero": false}, "axis": {"orient": "right", "values": [-0.05, -0.025, 0, 0.025, 0.05], "labels": false, "title": null}},
            "y2": {"datum": 0.0645}
          }
        },
        {
          "data": {"name": "labels"},
          "transform": [{"filter": "datum.c === 'HNN'"}],
          "mark": {"type": "text", "font": "DejaVu Sans", "fontSize": 13.3, "color": "#444444", "align": "left", "baseline": "middle"},
          "encoding": {
            "x": {"datum": 3.1, "type": "quantitative", "scale": {"domain": [0, 160.995], "nice": false, "zero": false}, "axis": null},
            "y": {"datum": 0.0578, "type": "quantitative", "scale": {"domain": [-0.0703, 0.069], "nice": false, "zero": false}, "axis": null},
            "text": {"field": "label"}
          }
        }
      ],
      "resolve": {"axis": {"x": "independent", "y": "independent"}}
    },
    {
      "width": 679,
      "height": 217,
      "layer": [
        {
          "data": {"name": "logo"},
          "transform": [{"filter": "datum.k === 'big'"}],
          "mark": {"type": "text", "font": "DejaVu Sans Condensed, DejaVu Sans", "fontSize": 72, "fontWeight": "bold", "fontStyle": "italic", "color": "#f6f6f6", "align": "center", "baseline": "middle"},
          "encoding": {
            "x": {"datum": 100.5, "type": "quantitative", "scale": {"domain": [0, 160.995], "nice": false, "zero": false}, "axis": null},
            "y": {"datum": 0.0039, "type": "quantitative", "scale": {"domain": [-0.0606, 0.0794], "nice": false, "zero": false}, "axis": null},
            "text": {"field": "s"}
          }
        },
        {
          "data": {"name": "logo"},
          "transform": [{"filter": "datum.k === 'cap'"}],
          "mark": {"type": "text", "font": "DejaVu Sans Condensed, DejaVu Sans", "fontSize": 13.5, "fontStyle": "italic", "color": "#f6f6f6", "align": "left", "baseline": "middle", "lineBreak": "\n", "lineHeight": 23},
          "encoding": {
            "x": {"datum": 106.5, "type": "quantitative", "scale": {"domain": [0, 160.995], "nice": false, "zero": false}, "axis": null},
            "y": {"datum": -0.0284, "type": "quantitative", "scale": {"domain": [-0.0606, 0.0794], "nice": false, "zero": false}, "axis": null},
            "text": {"field": "s"}
          }
        },
        {
          "data": {"name": "hne"},
          "mark": {"type": "area", "color": "#474747", "stroke": "#474747", "strokeWidth": 0.8, "clip": true},
          "encoding": {
            "x": {"field": "t", "type": "quantitative", "scale": {"domain": [0, 160.995], "nice": false, "zero": false}, "axis": {"orient": "bottom", "values": [19, 49, 79, 109, 139], "labelExpr": "timeFormat(datetime(2019, 3, 28, 10, 25, 5 + datum.value), '%H:%M:%S')", "title": null, "labelPadding": 8}},
            "y": {"field": "lo", "type": "quantitative", "scale": {"domain": [-0.0606, 0.0794], "nice": false, "zero": false}, "axis": {"orient": "left", "values": [-0.04, -0.02, 0, 0.02, 0.04, 0.06], "format": ".2f", "title": null}},
            "y2": {"field": "hi"}
          }
        },
        {
          "data": {"name": "labels"},
          "transform": [{"filter": "datum.c === 'HNE'"}],
          "mark": {"type": "rect", "fill": "white", "stroke": "#555555", "strokeWidth": 1, "cornerRadius": 4},
          "encoding": {
            "x": {"datum": 1.9, "type": "quantitative", "scale": {"domain": [0, 160.995], "nice": false, "zero": false}, "axis": {"orient": "top", "values": [19, 49, 79, 109, 139], "labels": false, "title": null}},
            "x2": {"datum": 26.6},
            "y": {"datum": 0.0606, "type": "quantitative", "scale": {"domain": [-0.0606, 0.0794], "nice": false, "zero": false}, "axis": {"orient": "right", "values": [-0.04, -0.02, 0, 0.02, 0.04, 0.06], "labels": false, "title": null}},
            "y2": {"datum": 0.0748}
          }
        },
        {
          "data": {"name": "labels"},
          "transform": [{"filter": "datum.c === 'HNE'"}],
          "mark": {"type": "text", "font": "DejaVu Sans", "fontSize": 13.3, "color": "#444444", "align": "left", "baseline": "middle"},
          "encoding": {
            "x": {"datum": 3.1, "type": "quantitative", "scale": {"domain": [0, 160.995], "nice": false, "zero": false}, "axis": null},
            "y": {"datum": 0.0677, "type": "quantitative", "scale": {"domain": [-0.0606, 0.0794], "nice": false, "zero": false}, "axis": null},
            "text": {"field": "label"}
          }
        }
      ],
      "resolve": {"axis": {"x": "independent", "y": "independent"}}
    }
  ],
  "spacing": 0,
  "config": {
    "view": {"stroke": "#4d4d4d", "strokeWidth": 1},
    "axis": {
      "domain": false,
      "grid": false,
      "ticks": true,
      "tickSize": -5,
      "tickColor": "#4d4d4d",
      "tickWidth": 1,
      "labelFont": "DejaVu Sans",
      "labelFontSize": 13,
      "labelColor": "#444444",
      "labelPadding": 8,
      "labelFlush": false
    }
  }
}
